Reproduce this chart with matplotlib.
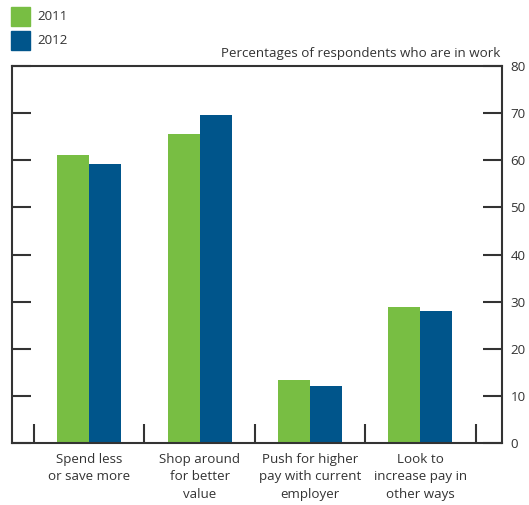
import matplotlib
matplotlib.use("Agg")
import matplotlib.pyplot as plt
import numpy as np
from matplotlib.patches import Rectangle

categories = ["Spend less\nor save more", "Shop around\nfor better\nvalue",
              "Push for higher\npay with current\nemployer", "Look to\nincrease pay in\nother ways"]
v2011 = [61.1, 65.6, 13.4, 28.9]
v2012 = [59.2, 69.6, 12.1, 28.0]
yticks = [0, 10, 20, 30, 40, 50, 60, 70, 80]

green = "#78be43"
blue = "#00558b"
plt.rcParams['font.family'] = ['Open Sans', 'DejaVu Sans']
textc = "#333333"
fs = 9.6

fig = plt.figure(figsize=(5.29, 5.05), dpi=100)
ax = fig.add_axes([12/529, 62/505, 490/529, 377/505])
x = np.arange(len(categories))
w = 0.29
ax.bar(x - w/2, v2011, w, color=green, label="2011")
ax.bar(x + w/2, v2012, w, color=blue, label="2012")
ax.set_xlim(-0.7, 3.74)
ax.set_ylim(0, 80)
ax.set_yticks(yticks)
ax.yaxis.tick_right()
ax.tick_params(axis='y', which='both', direction='in', length=14, width=1.5, left=True, right=True,
               labelleft=False, labelright=True, labelsize=fs, labelcolor=textc, color="#333333", pad=6)
ax.set_xticks(np.arange(-0.5, len(categories), 1))
ax.set_xticklabels([])
ax.tick_params(axis='x', which='major', direction='in', length=14, width=1.5, color="#333333")
ax.set_xticks(x, minor=True)
ax.set_xticklabels(categories, minor=True, fontsize=fs, color=textc, linespacing=1.45)
ax.tick_params(axis='x', which='minor', length=0, pad=7)
for s in ax.spines.values():
    s.set_color("#333333")
    s.set_linewidth(1.5)

fig.text(500/529, 1 - 53/505, "Percentages of respondents who are in work", ha='right', va='center',
         fontsize=fs, color=textc)
# legend
for i, (lab, c) in enumerate([("2011", green), ("2012", blue)]):
    y0 = 1 - (26 + 24*i)/505
    fig.patches.append(Rectangle((11/529, y0), 19/529, 19/505, transform=fig.transFigure,
                                 color=c, figure=fig))
    fig.text(37/529, y0 + 9.5/505, lab, ha='left', va='center', fontsize=fs, color=textc)

fig.savefig("out.png", dpi=100)
